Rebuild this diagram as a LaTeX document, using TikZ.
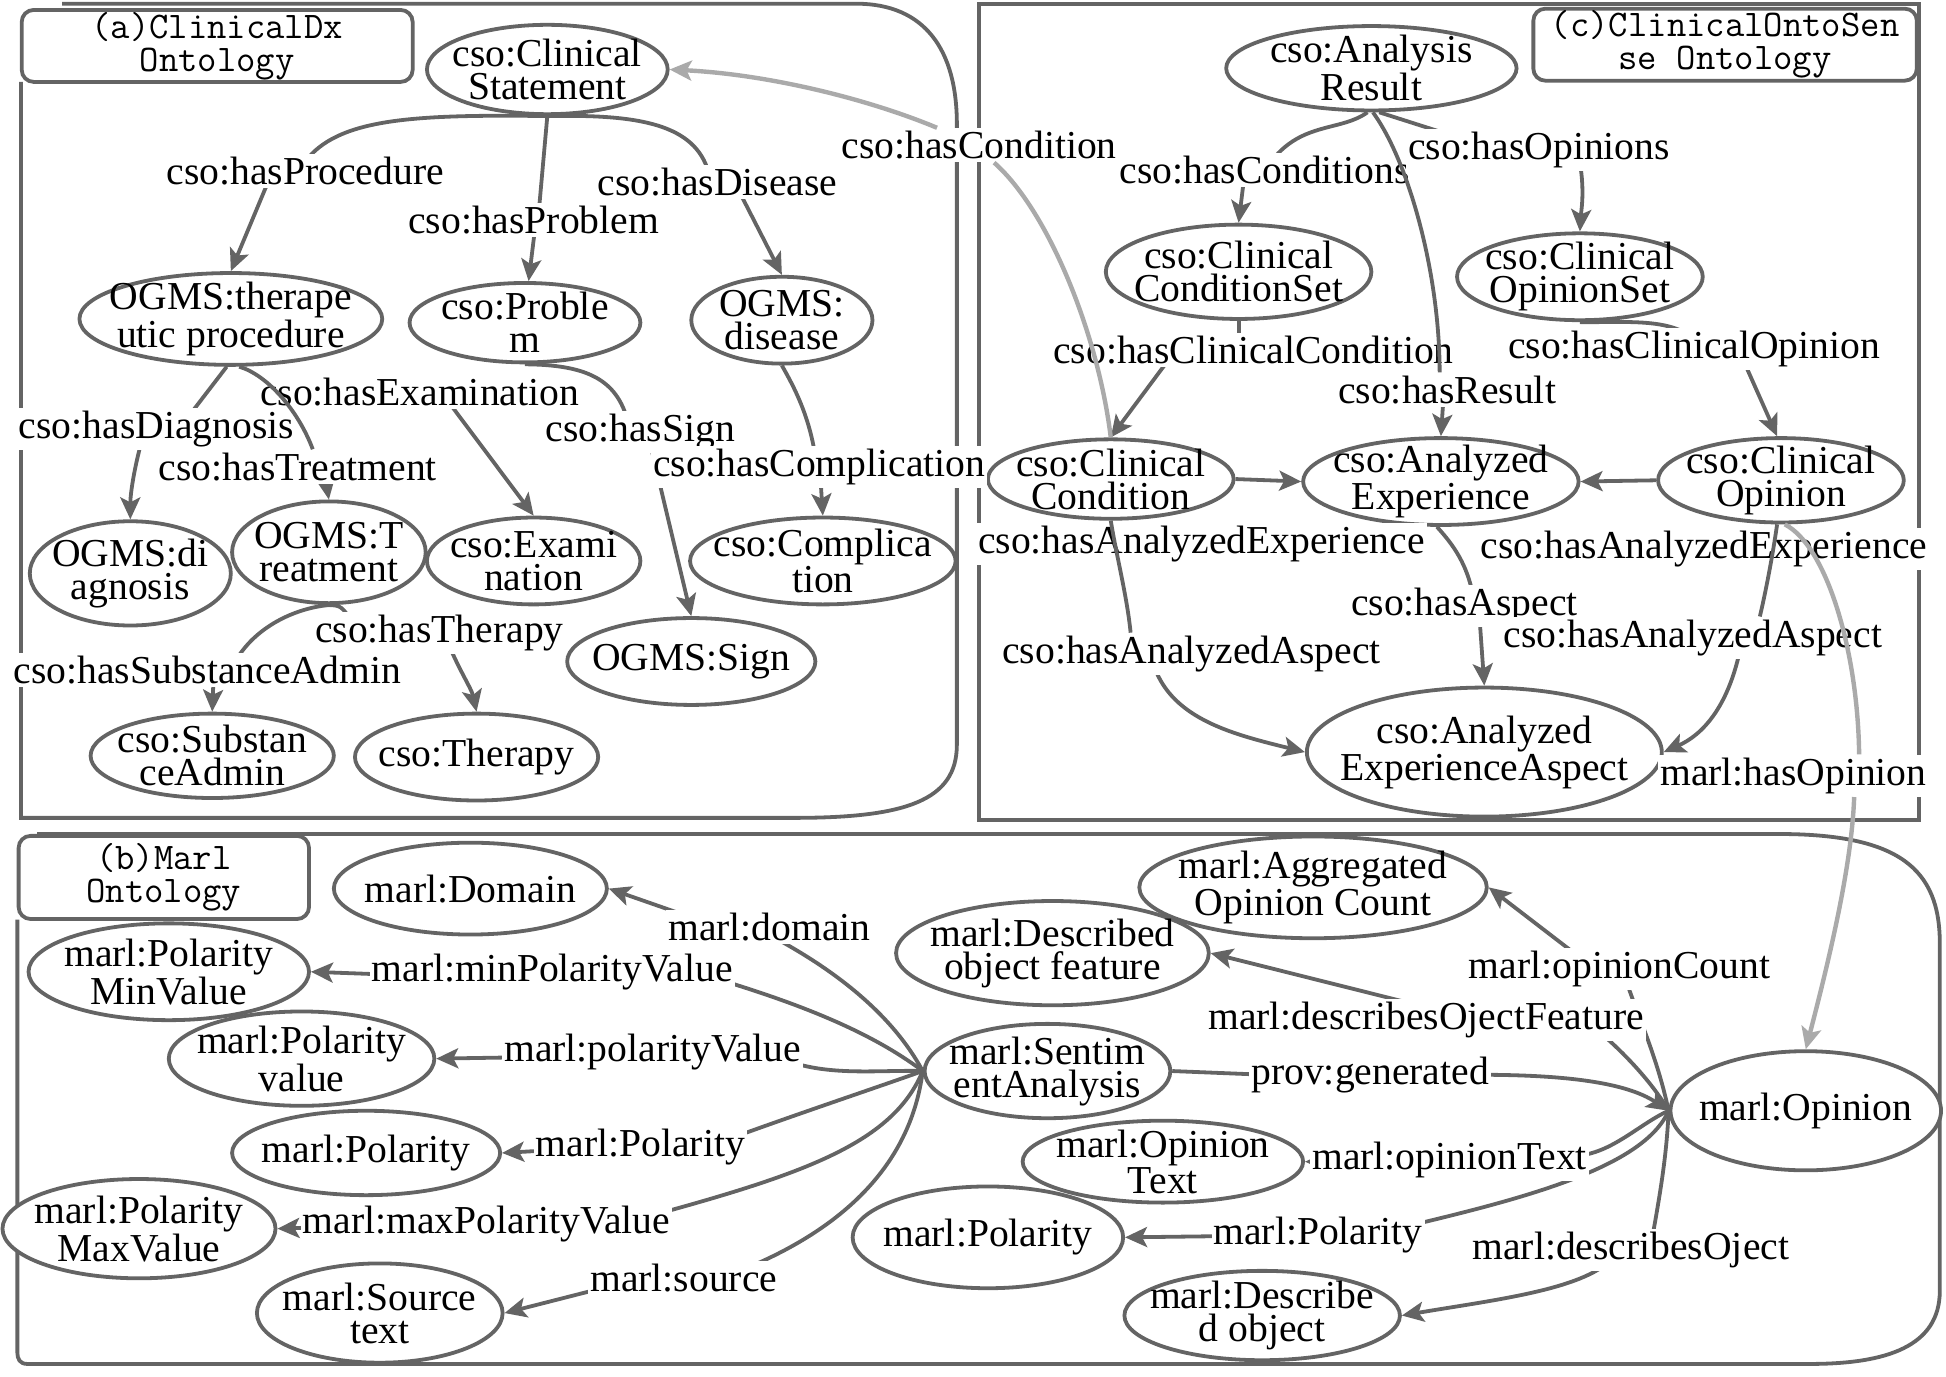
\documentclass[tikz,border=0pt]{standalone}
\usepackage{fontspec}
\setmainfont{Liberation Serif}
\usetikzlibrary{shapes.geometric,arrows.meta,calc,backgrounds}
\definecolor{gc}{RGB}{100,100,100}
\definecolor{lg}{RGB}{170,170,170}
\newcommand\mkel[6]{\node[el={#4}{#5}] (#1) at (#2,#3) {}; \node[tx] (#1T) at (#1) {#6};}
\begin{document}
\begin{tikzpicture}[x=0.6205pt,y=-0.6205pt,
 el/.style 2 args={draw=gc,line width=1.9pt,ellipse,fill=white,inner sep=0pt,minimum width=#1*1.241pt,minimum height=#2*1.241pt},
 tx/.style={font=\fontsize{19.8}{16.5}\selectfont,align=center,inner sep=0pt},
 lb/.style={font=\fontsize{19.8}{16.5}\selectfont,fill=white,inner xsep=1pt,inner ysep=1.5pt},
 ttl/.style 2 args={draw=gc,line width=1.9pt,rounded corners=6pt,fill=white,inner sep=0pt,minimum width=#1*0.6205pt,minimum height=#2*0.6205pt,align=center,font=\ttfamily\addfontfeatures{FakeBold=0.5}\fontsize{18.8}{16.5}\selectfont},
 edge/.style={draw=gc,line width=1.9pt},
 arr/.style={edge,-{Stealth[length=11pt,width=10pt,inset=2.5pt]}},
 cross/.style={draw=lg,line width=2.2pt},
 crossarr/.style={cross,-{Stealth[length=11pt,width=10pt,inset=2.5pt]}},
 frame/.style={draw=gc,line width=1.9pt}]
\useasboundingbox (0,0) rectangle (1568,1109);

% ---------------- nodes (a)
\mkel{stmt}{441}{56}{97}{36}{cso:Clinical\\Statement}
\mkel{ther}{186}{257}{122}{37}{OGMS:therape\\utic procedure}
\mkel{prob}{423}{260}{93}{32}{cso:Proble\\m}
\mkel{dis}{630}{258}{73}{35}{OGMS:\\disease}
\mkel{diag}{105}{462}{81}{42}{OGMS:di\\agnosis}
\mkel{treat}{265}{445}{78}{41}{OGMS:T\\reatment}
\mkel{exam}{430}{452}{86}{35}{cso:Exami\\nation}
\mkel{comp}{663}{452}{107}{35}{cso:Complica\\tion}
\mkel{sign}{557}{533}{100}{35}{OGMS:Sign}
\mkel{subst}{171}{609}{98}{34}{cso:Substan\\ceAdmin}
\mkel{thera}{384}{610}{98}{35}{cso:Therapy}
% ---------------- nodes (c)
\mkel{ares}{1105}{55}{117}{34}{cso:Analysis\\Result}
\mkel{cset}{998}{219}{107}{38}{cso:Clinical\\ConditionSet}
\mkel{oset}{1273}{223}{99}{35}{cso:Clinical\\OpinionSet}
\mkel{cond}{895}{386}{99}{32}{cso:Clinical\\Condition}
\mkel{aexp}{1161}{388}{111}{35}{cso:Analyzed\\Experience}
\mkel{copin}{1435}{387}{99}{34}{cso:Clinical\\Opinion}
\mkel{aasp}{1196}{606}{143}{52}{cso:Analyzed\\ExperienceAspect}
% ---------------- nodes (b)
\mkel{dom}{379}{716}{110}{37}{marl:Domain}
\mkel{minv}{136}{783}{113}{39}{marl:Polarity\\MinValue}
\mkel{pval}{243}{853}{107}{38}{marl:Polarity\\value}
\mkel{pol1}{295}{929}{108}{34}{marl:Polarity}
\mkel{maxv}{112}{990}{110}{40}{marl:Polarity\\MaxValue}
\mkel{src}{306}{1058}{99}{40}{marl:Source\\text}
\mkel{sent}{844}{863}{99}{38}{marl:Sentim\\entAnalysis}
\mkel{agg}{1058}{715}{140}{41}{marl:Aggregated\\Opinion Count}
\mkel{feat}{848}{768}{126}{42}{marl:Described\\object feature}
\mkel{otext}{937}{936}{113}{33}{marl:Opinion\\Text}
\mkel{pol2}{796}{997}{109}{41}{marl:Polarity}
\mkel{dobj}{1017}{1060}{111}{36}{marl:Describe\\d object}
\mkel{mop}{1455}{895}{109}{48}{marl:Opinion}

% ---------------- titles
\node[ttl={315}{58}] (ta) at (175,37) {(a)ClinicalDx\\Ontology};
\node[ttl={309}{58}] (tc) at (1390,36) {(c)ClinicalOntoSen\\se Ontology};
\node[ttl={234}{67}] (tb) at (132,707) {(b)Marl\\Ontology};

% ---------------- labels (a)
\node[lb] (lProc) at (246,138) {cso:hasProcedure};
\node[lb] (lProb) at (430,177) {cso:hasProblem};
\node[lb] (lDis) at (578,147) {cso:hasDisease};
\node[lb] (lCond) at (789,117) {cso:hasCondition};
\node[lb] (lExam) at (338,316) {cso:hasExamination};
\node[lb] (lDiag) at (126,346) {cso:hasDiagnosis};
\node[lb] (lSign) at (516,348) {cso:hasSign};
\node[lb] (lTreat) at (240,376) {cso:hasTreatment};
\node[lb] (lComp) at (660,376) {cso:hasComplication};
\node[lb] (lThy) at (354,510) {cso:hasTherapy};
\node[lb] (lSub) at (167,540) {cso:hasSubstanceAdmin};
% ---------------- labels (c)
\node[lb] (lConds) at (1019,137) {cso:hasConditions};
\node[lb] (lOps) at (1240,121) {cso:hasOpinions};
\node[lb] (lCC) at (1010,282) {cso:hasClinicalCondition};
\node[lb] (lCO) at (1365,281) {cso:hasClinicalOpinion};
\node[lb] (lRes) at (1166,314) {cso:hasResult};
\node[lb] (lAE1) at (968,438) {cso:hasAnalyzedExperience};
\node[lb] (lAE2) at (1373,442) {cso:hasAnalyzedExperience};
\node[lb] (lAsp) at (1180,488) {cso:hasAspect};
\node[lb] (lAA1) at (960,527) {cso:hasAnalyzedAspect};
\node[lb] (lAA2) at (1364,514) {cso:hasAnalyzedAspect};
\node[lb] (lHO) at (1445,625) {marl:hasOpinion};
% ---------------- labels (b)
\node[lb] (lDom) at (620,747) {marl:domain};
\node[lb] (lMin) at (445,783) {marl:minPolarityValue};
\node[lb] (lPV) at (526,848) {marl:polarityValue};
\node[lb] (lP1) at (516,924) {marl:Polarity};
\node[lb] (lMax) at (392,986) {marl:maxPolarityValue};
\node[lb] (lSrc) at (551,1030) {marl:source};
\node[lb] (lGen) at (1104,866) {prov:generated};
\node[lb] (lOC) at (1305,781) {marl:opinionCount};
\node[lb] (lDOF) at (1149,822) {marl:describesOjectFeature};
\node[lb] (lOT) at (1168,935) {marl:opinionText};
\node[lb] (lP2) at (1062,995) {marl:Polarity};
\node[lb] (lDO) at (1314,1007) {marl:describesOject};

\begin{pgfonlayer}{background}
% frames
\draw[frame] (50,3) -- (690,3) .. controls (745,3) and (771,40) .. (771,100) -- (771,600) .. controls (771,645) and (730,659) .. (640,659) -- (17,659) -- (17,66);
\draw[frame] (789,3) rectangle (1546,661);
\draw[frame] (30,672) -- (1433,672) .. controls (1530,672) and (1563,700) .. (1563,760) -- (1563,1040) .. controls (1563,1085) and (1520,1099) .. (1458,1099) -- (22,1099) .. controls (16,1099) and (14,1095) .. (14,1090) -- (14,741);
% (a)
\draw[edge] (stmt.south) .. controls (330,92) and (272,96) .. ($(lProc)+(0,-8)$);
\draw[arr] ($(lProc)+(-31,11)$) -- (ther.north);
\draw[edge] (stmt.south) -- ($(lProb)+(4,-5)$);
\draw[arr] ($(lProb)+(1,8)$) -- (prob.85);
\draw[edge] (stmt.south) .. controls (515,92) and (560,100) .. ($(lDis)+(-7,-8)$);
\draw[arr] ($(lDis)+(19,10)$) -- (dis.north);
\draw[edge] (ther.-95) -- ($(lDiag)+(24,-8)$);
\draw[arr] ($(lDiag)+(-12,10)$) .. controls (108,378) and (105,398) .. (diag.north);
\draw[arr] ($(lTreat)+(22,8)$) -- (treat.north);
\draw[arr] ($(lExam)+(25,10)$) -- (exam.north);
\draw[edge] (prob.south) .. controls (472,294) and (497,305) .. ($(lSign)+(-10,-8)$);
\draw[arr] ($(lSign)+(8,10)$) -- (sign.north);
\draw[edge] (dis.south) .. controls (640,312) and (652,335) .. ($(lComp)+(-3,-8)$);
\draw[arr] ($(lComp)+(1,8)$) -- (comp.north);
\draw[edge] (treat.south) .. controls (238,490) and (205,505) .. ($(lSub)+(22,-6)$);
\draw[arr] ($(lSub)+(5,8)$) -- (subst.north);
\draw[edge] (treat.south) .. controls (275,488) .. ($(lThy)+(-68,-6)$);
\draw[arr] ($(lThy)+(7,8)$) .. controls (370,540) and (380,555) .. (thera.north);
% (c)
\draw[edge] (ares.-95) .. controls (1080,106) and (1050,98) .. ($(lConds)+(6,-8)$);
\draw[arr] ($(lConds)+(-17,10)$) -- (cset.north);
\draw[edge] (ares.-80) -- ($(lOps)+(-58,-8)$);
\draw[arr] ($(lOps)+(33,10)$) .. controls (1277,155) and (1274,170) .. (oset.north);
\draw[arr] ($(lRes)+(-3,8)$) -- (aexp.north);
\draw[edge] (cset.south) -- ($(lCC)+(-12,-6)$);
\draw[arr] ($(lCC)+(-70,10)$) -- (cond.north);
\draw[edge] (oset.south) .. controls (1310,260) and (1345,256) .. ($(lCO)+(0,-8)$);
\draw[arr] ($(lCO)+(40,10)$) -- (copin.95);
\draw[arr] (cond.east) -- (aexp.west);
\draw[arr] (copin.west) -- (aexp.east);
\draw[edge] (aexp.-95) .. controls (1172,440) and (1182,455) .. ($(lAsp)+(7,-8)$);
\draw[arr] ($(lAsp)+(12,8)$) -- (aasp.north);
\draw[arr] ($(lAA1)+(-30,10)$) .. controls (945,580) and (995,592) .. (aasp.west);
\draw[arr] ($(lAA2)+(38,10)$) .. controls (1392,570) and (1372,592) .. (aasp.east);
% (b)
\draw[edge] (sent.west) .. controls (715,810) and (660,775) .. ($(lDom)+(3,8)$);
\draw[arr] ($(lDom)+(-75,-12)$) -- (dom.east);
\draw[edge] (sent.west) .. controls (700,830) and (640,808) .. ($(lMin)+(140,8)$);
\draw[arr] ($(lMin)+(-140,2)$) -- (minv.east);
\draw[edge] (sent.west) .. controls (710,862) and (672,867) .. ($(lPV)+(112,8)$);
\draw[arr] ($(lPV)+(-112,4)$) -- (pval.east);
\draw[edge] (sent.west) .. controls (710,875) and (650,895) .. ($(lP1)+(76,-8)$);
\draw[arr] ($(lP1)+(-76,3)$) -- (pol1.east);
\draw[edge] (sent.west) .. controls (720,920) and (650,945) .. ($(lMax)+(138,-8)$);
\draw[arr] ($(lMax)+(-138,3)$) -- (maxv.east);
\draw[edge] (sent.west) .. controls (735,930) and (690,985) .. ($(lSrc)+(50,-8)$);
\draw[arr] ($(lSrc)+(-66,8)$) -- (src.east);
\draw[edge] (sent.east) -- ($(lGen)+(-85,0)$);
\draw[arr] ($(lGen)+(88,0)$) .. controls (1260,866) and (1310,872) .. (mop.west);
\draw[edge] (mop.west) .. controls (1335,850) and (1318,815) .. ($(lOC)+(5,8)$);
\draw[arr] ($(lOC)+(-30,-8)$) -- (agg.east);
\draw[edge] (mop.west) .. controls (1330,870) and (1305,845) .. ($(lDOF)+(138,8)$);
\draw[arr] ($(lDOF)+(10,-8)$) -- (feat.east);
\draw[edge] (mop.west) .. controls (1322,905) and (1300,928) .. ($(lOT)+(105,-4)$);
\draw[arr] ($(lOT)+(-100,1)$) -- (otext.east);
\draw[edge] (mop.west) .. controls (1325,940) and (1230,965) .. ($(lP2)+(76,-8)$);
\draw[arr] ($(lP2)+(-76,1)$) -- (pol2.east);
\draw[edge] (mop.west) .. controls (1343,930) and (1338,960) .. ($(lDO)+(17,-8)$);
\draw[arr] ($(lDO)+(-18,10)$) .. controls (1270,1040) and (1200,1048) .. (dobj.east);
\end{pgfonlayer}

% ---------------- connectors drawn over labels
\draw[edge] (ther.-80) .. controls (215,302) and (240,330) .. ($(lTreat.north)+(12,0)$);
\draw[edge] (ares.-88) .. controls (1135,130) and (1160,220) .. ($(lRes.north)+(-6,0)$);
\draw[edge] (cond.-90) .. controls (900,450) and (908,480) .. ($(lAA1.north)+(-49,0)$);
\draw[edge] (copin.-95) .. controls (1428,450) and (1422,480) .. ($(lAA2.north)+(54,0)$);
\draw[cross] (cond.north) .. controls (885,270) and (845,170) .. ($(lCond.south)+(12,0)$);
\draw[crossarr] ($(lCond.north)+(-34,0)$) .. controls (700,80) and (620,60) .. (stmt.east);
\draw[cross] (copin.-85) .. controls (1472,440) and (1497,525) .. ($(lHO.north)+(53,0)$);
\draw[crossarr] ($(lHO.south)+(49,0)$) .. controls (1492,700) and (1472,780) .. (mop.north);
\end{tikzpicture}
\end{document}
